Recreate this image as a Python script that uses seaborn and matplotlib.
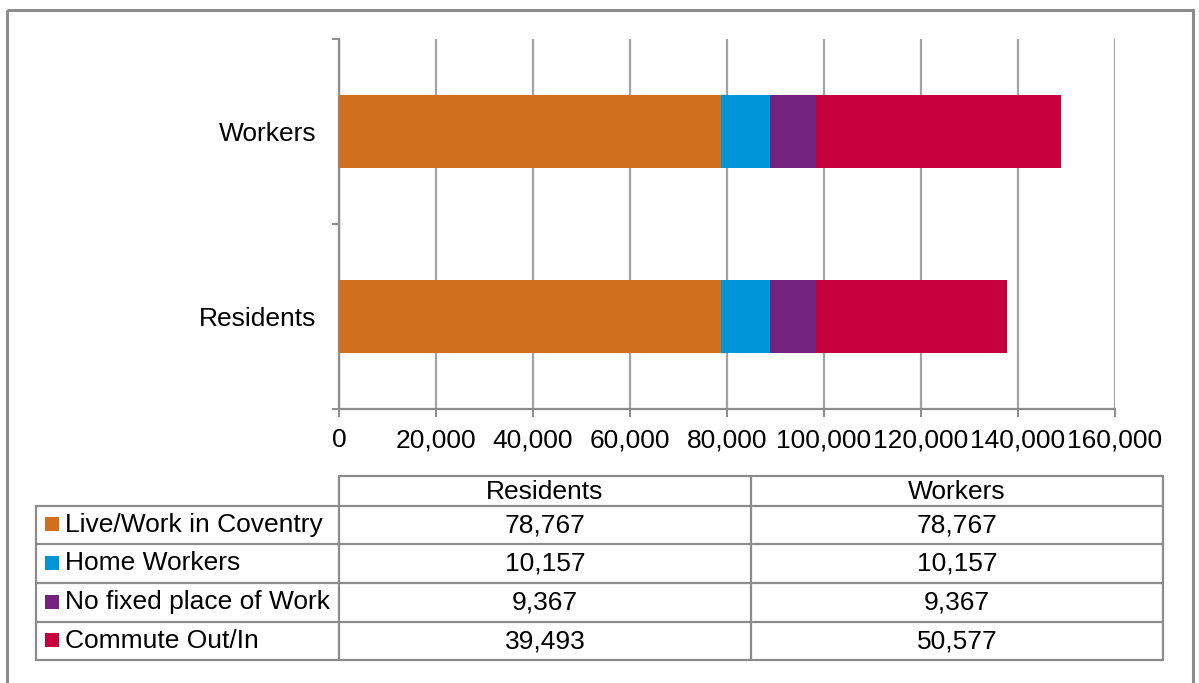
import numpy as np
import pandas as pd
import matplotlib
matplotlib.use("Agg")
import matplotlib.pyplot as plt
from matplotlib.patches import Rectangle
from matplotlib.ticker import FuncFormatter, FixedLocator
import seaborn as sns

# ---- data ----
groups = ["Workers", "Residents"]          # top to bottom
table_columns = ["Residents", "Workers"]
segments = ["Live/Work in Coventry", "Home Workers", "No fixed place of Work", "Commute Out/In"]
residents = [78767, 10157, 9367, 39493]
workers = [78767, 10157, 9367, 50577]
colors = ["#D0701E", "#0095D7", "#73237E", "#C5003C"]
x_ticks = [0, 20000, 40000, 60000, 80000, 100000, 120000, 140000, 160000]

sns.set_theme(style="white")
plt.rcParams["font.family"] = ["Liberation Sans", "DejaVu Sans"]

W, H = 1199, 683
FS = 19
GRAY = "#8C8C8C"
GRID = "#A3A3A3"

fig = plt.figure(figsize=(W / 100, H / 100), dpi=100)
fig.patch.set_facecolor("white")

# outer frame (open at the bottom)
frame = fig.add_axes([0, 0, 1, 1])
frame.set_xlim(0, W)
frame.set_ylim(H, 0)
frame.axis("off")
frame.add_patch(Rectangle((7, 10), 1186, 720, fill=False, edgecolor=GRAY, lw=2.2, clip_on=False))

# ---- stacked bars ----
ax = fig.add_axes([339 / W, 1 - 409 / H, 776 / W, 370 / H])
by_group = {"Residents": residents, "Workers": workers}
df = pd.DataFrame({g: np.cumsum(by_group[g]) for g in groups}, index=segments).T
df.index.name = "group"
df = df.reset_index()

# draw cumulative totals from the outermost segment inwards so each shows as a stacked piece
for seg, col in reversed(list(zip(segments, colors))):
    sns.barplot(data=df, x=seg, y="group", order=groups, orient="h", color=col,
                saturation=1, width=0.395, errorbar=None, edgecolor="none",
                linewidth=0, ax=ax, zorder=3)

ax.set_xlim(x_ticks[0], x_ticks[-1])
ax.set_ylim(1.5, -0.5)
ax.xaxis.set_major_locator(FixedLocator(x_ticks))
ax.xaxis.set_major_formatter(FuncFormatter(lambda v, p: f"{int(v):,}"))
ax.set_xlabel("")
ax.set_ylabel("")
ax.grid(axis="x", color=GRID, lw=1.6, zorder=0)
ax.grid(axis="y", visible=False)
ax.set_axisbelow(True)
for s in ["top", "right"]:
    ax.spines[s].set_visible(False)
for s in ["left", "bottom"]:
    ax.spines[s].set_color(GRAY)
    ax.spines[s].set_linewidth(1.6)

ax.tick_params(axis="x", which="major", length=6, width=1.4, color=GRAY,
               direction="out", pad=8, labelsize=FS, labelcolor="black", bottom=True)
ax.tick_params(axis="y", which="major", length=0, pad=16.5, labelsize=FS, labelcolor="black")
ax.yaxis.set_minor_locator(FixedLocator([-0.5, 0.5, 1.5]))
ax.tick_params(axis="y", which="minor", length=5, width=1.4, color=GRAY, direction="out", left=True)

# ---- data table under the chart ----
t = frame
x_edges = [36, 339, 751, 1163]
y_head = (476, 506)
y_rows = [506, 544, 583, 622, 660]
lc = dict(color=GRAY, lw=1.6)

t.plot([x_edges[1], x_edges[3]], [y_head[0], y_head[0]], **lc)
for x in x_edges[1:]:
    t.plot([x, x], [y_head[0], y_rows[-1]], **lc)
t.plot([x_edges[0], x_edges[0]], [y_rows[0], y_rows[-1]], **lc)
for y in y_rows:
    t.plot([x_edges[0], x_edges[3]], [y, y], **lc)

for j, name in enumerate(table_columns):
    t.text((x_edges[j + 1] + x_edges[j + 2]) / 2, sum(y_head) / 2 + 1, name,
           ha="center", va="center", fontsize=FS, color="black")

for i, (seg, col) in enumerate(zip(segments, colors)):
    yc = (y_rows[i] + y_rows[i + 1]) / 2
    t.add_patch(Rectangle((45, yc - 8), 14, 14, facecolor=col, edgecolor="none"))
    t.text(65, yc, seg, ha="left", va="center", fontsize=FS, color="black")
    for j, name in enumerate(table_columns):
        t.text((x_edges[j + 1] + x_edges[j + 2]) / 2, yc, f"{by_group[name][i]:,}",
               ha="center", va="center", fontsize=FS, color="black")

fig.savefig("out.png", dpi=100, facecolor="white")
